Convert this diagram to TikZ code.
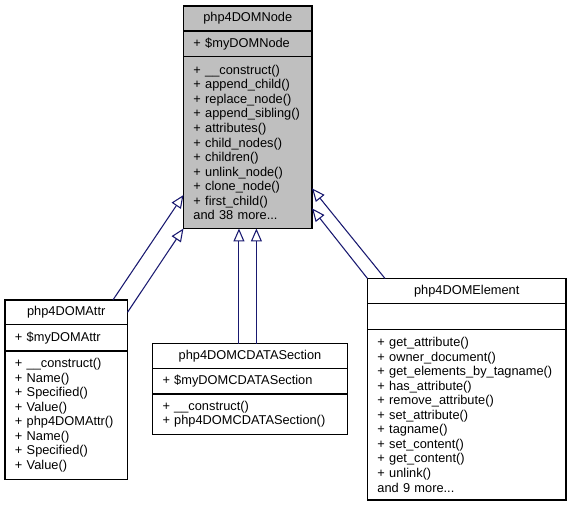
\documentclass[tikz,border=0pt]{standalone}
\usepackage{fontspec}
\setmainfont{Liberation Sans}
\usetikzlibrary{arrows.meta,positioning}
\hyphenpenalty=10000
\exhyphenpenalty=10000

\definecolor{edgeblue}{HTML}{191970}
\definecolor{basegray}{HTML}{BFBFBF}

\tikzset{
  part/.style={draw=black,line width=0.9pt,outer sep=0pt,inner ysep=0pt,inner xsep=7.5pt,
    font=\fontsize{9.6}{10.9}\selectfont},
  classname/.style 2 args={part,anchor=north,align=center,text width=#1,minimum height=#2},
  members/.style 2 args={part,align=left,text width=#1,minimum height=#2},
  derived/.style={edgeblue,line width=0.8pt,-{Triangle[length=9.75pt,width=8.25pt,fill=white]}}
}

\begin{document}
\begin{tikzpicture}[x=0.75pt,y=-0.75pt]
  \useasboundingbox (0,0) rectangle (571,507);

  % base class
  \node [classname={81.4pt}{18.75pt},fill=basegray] (nodeT) at (247.75,6) {php4DOMNode};
  \node [members={81.4pt}{19.1pt},fill=basegray,below=0pt of nodeT] (nodeA) {+ \$myDOMNode};
  \node [members={81.4pt}{129pt},fill=basegray,below=0pt of nodeA] (nodeM)
    {+ \_\_construct()\\+ append\_child()\\+ replace\_node()\\+ append\_sibling()\\+ attributes()\\
     + child\_nodes()\\+ children()\\+ unlink\_node()\\+ clone\_node()\\+ first\_child()\\and 38 more...};

  % derived classes
  \node [classname={76.9pt}{18.4pt}] (attrT) at (66.25,300) {php4DOMAttr};
  \node [members={76.9pt}{19.9pt},below=0pt of attrT] (attrA) {+ \$myDOMAttr};
  \node [members={76.9pt}{96.4pt},below=0pt of attrA] (attrM)
    {+ \_\_construct()\\+ Name()\\+ Specified()\\+ Value()\\+ php4DOMAttr()\\+ Name()\\+ Specified()\\+ Value()};

  \node [classname={131.25pt}{18.75pt}] (cdataT) at (250,343.5) {php4DOMCDATASection};
  \node [members={131.25pt}{19.1pt},below=0pt of cdataT] (cdataA) {+ \$myDOMCDATASection};
  \node [members={131.25pt}{30.4pt},below=0pt of cdataA] (cdataM)
    {+ \_\_construct()\\+ php4DOMCDATASection()};

  \node [classname={133.9pt}{18.75pt}] (elemT) at (466.75,278.5) {php4DOMElement};
  \node [members={133.9pt}{19.5pt},below=0pt of elemT] (elemA) {};
  \node [members={133.9pt}{127.9pt},below=0pt of elemA] (elemM)
    {+ get\_attribute()\\+ owner\_document()\\+ get\_elements\_by\_tagname()\\+ has\_attribute()\\
     + remove\_attribute()\\+ set\_attribute()\\+ tagname()\\+ set\_content()\\+ get\_content()\\
     + unlink()\\and 9 more...};

  % inheritance
  \draw [derived] ([xshift=35pt]attrT.north) -- ([yshift=-39.4pt]nodeM.west);
  \draw [derived] (attrT.east) -- (nodeM.south west);
  \draw [derived] ([xshift=-6.6pt]nodeM.south |- cdataT.north) -- ([xshift=-6.6pt]nodeM.south);
  \draw [derived] ([xshift=6.5pt]nodeM.south |- cdataT.north) -- ([xshift=6.5pt]nodeM.south);
  \draw [derived] ([xshift=-61.3pt]elemT.north) -- ([yshift=-34.4pt]nodeM.east);
  \draw [derived] (elemT.north west) -- ([yshift=-49.4pt]nodeM.east);
\end{tikzpicture}
\end{document}
